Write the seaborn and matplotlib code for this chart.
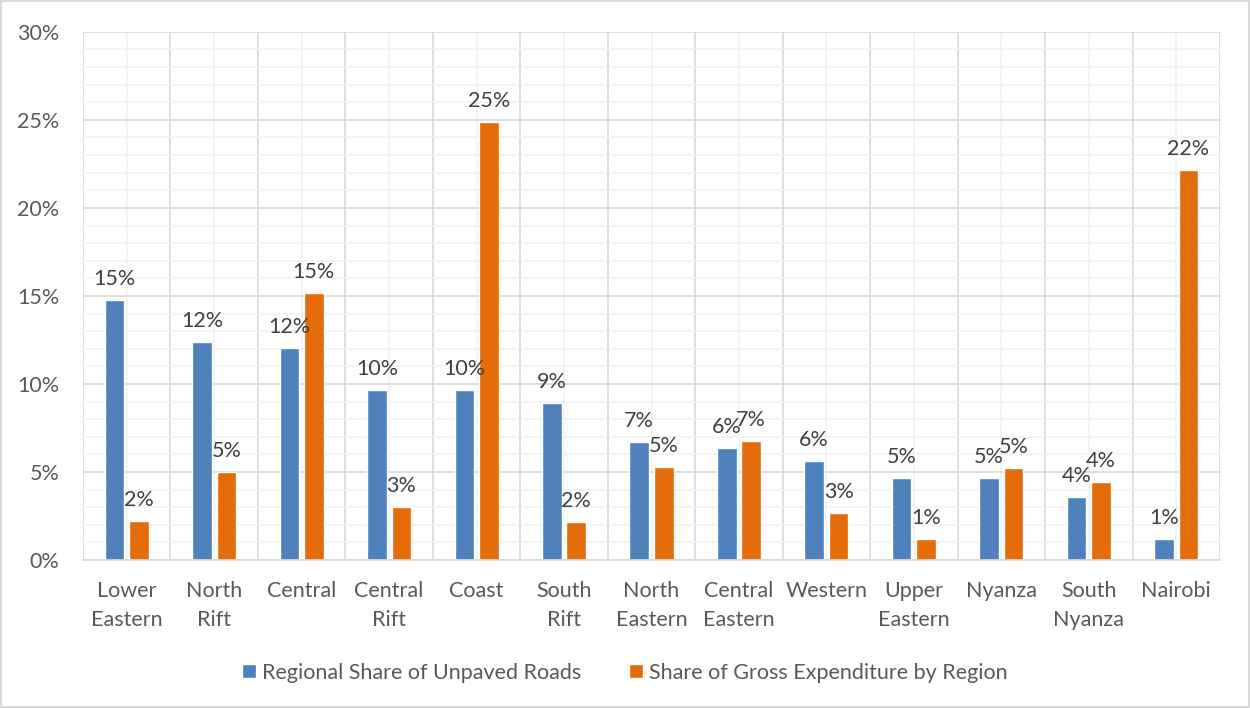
import matplotlib
matplotlib.use("Agg")
import matplotlib.pyplot as plt
from matplotlib.ticker import MultipleLocator, FuncFormatter
import seaborn as sns
import pandas as pd

regions = ["Lower\nEastern", "North\nRift", "Central", "Central\nRift", "Coast", "South\nRift",
           "North\nEastern", "Central\nEastern", "Western", "Upper\nEastern", "Nyanza",
           "South\nNyanza", "Nairobi"]
unpaved = [14.77, 12.4, 12.05, 9.66, 9.66, 8.9, 6.7, 6.36, 5.63, 4.66, 4.64, 3.58, 1.19]
expenditure = [2.2, 5.0, 15.17, 3.0, 24.9, 2.16, 5.28, 6.76, 2.67, 1.19, 5.22, 4.43, 22.16]
series_names = ["Regional Share of Unpaved Roads", "Share of Gross Expenditure by Region"]

df = pd.DataFrame({
    "Region": regions * 2,
    "Value": unpaved + expenditure,
    "Series": [series_names[0]] * len(regions) + [series_names[1]] * len(regions),
})

sns.set_theme(style="white")
plt.rcParams["font.family"] = ["Lato", "DejaVu Sans"]
text_color = "#595959"
fs = 15.5

fig = plt.figure(figsize=(12.5, 7.08), dpi=100)
fig.patch.set_edgecolor("#d9d9d9")
fig.patch.set_linewidth(1.5)
ax = fig.add_axes([0.0664, 0.209, 0.9096, 0.746])

sns.barplot(data=df, x="Region", y="Value", hue="Series",
            palette=["#4F81BD", "#E46C0A"], width=0.56, gap=0.2,
            ax=ax, legend=True, saturation=1)

for cont in ax.containers:
    vals = [b.get_height() for b in cont]
    ax.bar_label(cont, labels=[f"{round(v):.0f}%" for v in vals], padding=8,
                 fontsize=fs, color="#404040")

ax.set_ylim(0, 30)
ax.set_xlim(-0.5, len(regions) - 0.5)
ax.yaxis.set_major_locator(MultipleLocator(5))
ax.yaxis.set_minor_locator(MultipleLocator(1))
ax.yaxis.set_major_formatter(FuncFormatter(lambda v, p: f"{v:.0f}%"))
ax.set_xticks(range(len(regions)))
ax.set_xticks([i + 0.5 for i in range(-1, len(regions))], minor=True)
ax.grid(axis="y", which="major", color="#d9d9d9", linewidth=1.2, zorder=0)
ax.grid(axis="y", which="minor", color="#f2f2f2", linewidth=1.2, zorder=0)
ax.grid(axis="x", which="minor", color="#d9d9d9", linewidth=1.2, zorder=0)
ax.grid(axis="x", which="major", color="#f2f2f2", linewidth=1.2, zorder=0)
ax.set_axisbelow(True)
ax.tick_params(axis="both", which="both", length=0)
ax.tick_params(axis="y", pad=17, labelsize=fs, labelcolor=text_color)
ax.tick_params(axis="x", pad=15, labelsize=fs, labelcolor=text_color)
for lbl in ax.get_xticklabels():
    lbl.set_linespacing(1.55)
ax.set_xlabel("")
ax.set_ylabel("")
for s in ["top", "right", "left"]:
    ax.spines[s].set_visible(False)
ax.spines["bottom"].set_color("#d9d9d9")
ax.spines["bottom"].set_linewidth(1.2)

handles, labels = ax.get_legend_handles_labels()
ax.get_legend().remove()
fig.legend(handles, labels, loc="center", bbox_to_anchor=(0.5, 0.05), ncol=2,
           frameon=False, fontsize=fs, handlelength=0.65, handleheight=0.65,
           handletextpad=0.3, columnspacing=2.2, labelcolor=text_color)

fig.savefig("out.png", dpi=100, edgecolor=fig.get_edgecolor())
